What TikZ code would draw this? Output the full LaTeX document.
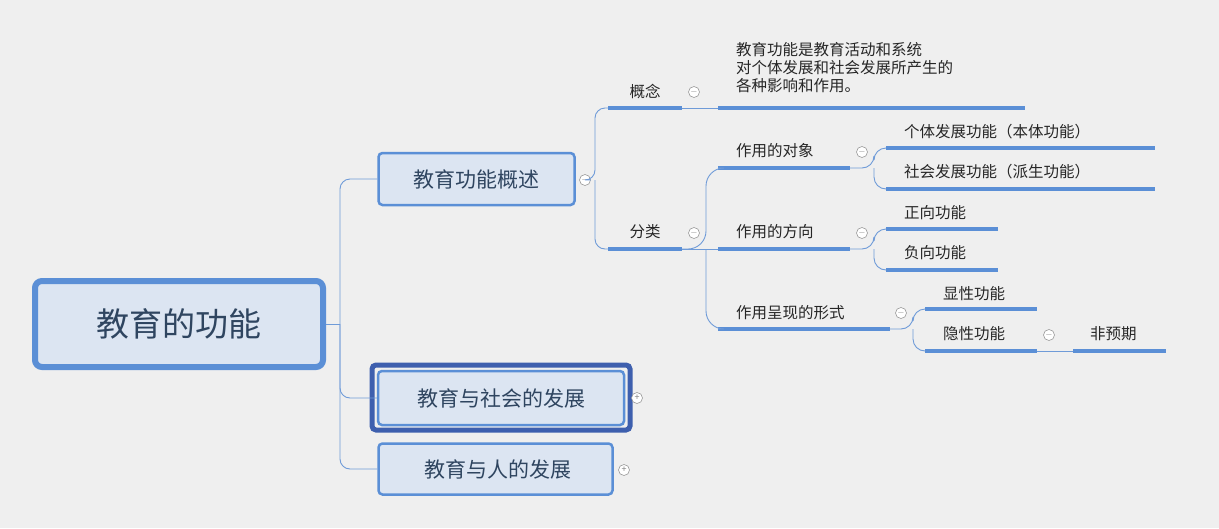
\documentclass[tikz,border=0pt]{standalone}
\usepackage{fontspec}
\setmainfont{Noto Sans CJK SC}
\begin{document}
\begin{tikzpicture}[x=1pt,y=-1pt,
  line/.style={draw=lb,line width=0.9pt,rounded corners=10pt},
  ul/.style={draw=ub,line width=3.5pt},
  lbl/.style={font=\fontsize{15.5}{18}\selectfont,text=black!85,inner sep=0pt},
  box/.style={draw=ub,line width=2.5pt,fill=bf,rounded corners=4pt,font=\fontsize{21}{24}\selectfont,text=tx},
  colbtn/.style={circle,draw=gray!80,fill=white,line width=0.6pt,minimum size=11pt,inner sep=0pt,font=\fontsize{9}{9}\selectfont,text=gray}]
\definecolor{bgc}{HTML}{EFEFEF}
\definecolor{ub}{HTML}{5B8FD6}
\definecolor{lb}{HTML}{6F9BD8}
\definecolor{bf}{HTML}{DCE5F2}
\definecolor{tx}{HTML}{2F4560}
\definecolor{sel}{HTML}{3E5FAE}
\fill[bgc] (0,0) rectangle (1219,528);
\useasboundingbox (0,0) rectangle (1219,528);
% root
\node[box,line width=6pt,rounded corners=7pt,minimum width=288pt,minimum height=86pt,font=\fontsize{33}{36}\selectfont] (root) at (179,324) {教育的功能};
\node[box,minimum width=196pt,minimum height=52pt] (c1) at (476.5,179) {教育功能概述};
\draw[sel,line width=5pt,rounded corners=4pt] (372,365) rectangle (630,430);
\node[box,minimum width=246pt,minimum height=54pt] (c2) at (501,398) {教育与社会的发展};
\node[box,minimum width=234pt,minimum height=51pt] (c3) at (495.5,469) {\ 教育与人的发展};
\coordinate (j0) at (340,324);
\draw[line] (root.east) -- (j0);
\draw[line] (c1.west) -- (340,179) -- (340,469) -- (c3.west);
\draw[line] (j0) |- (c2.west);
\node[colbtn] (m1) at (585,180) {$-$};
\node[colbtn] (m2) at (637,398) {+};
\node[colbtn] (m3) at (624,470) {+};
% level 2
\draw[ul] (608,108) coordinate (u1a) -- (682,108) coordinate (u1b);
\draw[ul] (608,249) coordinate (u2a) -- (682,249) coordinate (u2b);
\node[lbl] (gn) at (645,91) {概念};
\node[lbl] (fl) at (645,232) {分类};
\draw[line] (m1) -- (595,180) |- (u1a);
\draw[line] (595,180) |- (u2a);
\node[colbtn] (m4) at (694,92) {$-$};
\node[colbtn] (m5) at (694,233) {$-$};
\draw[line] (u1b) -- (718,108);
\draw[ul] (718,108) -- (1025,108);
\node[lbl,align=left,anchor=north west] (def) at (736,42) {教育功能是教育活动和系统\\对个体发展和社会发展所产生的\\各种影响和作用。};
% 分类 children
\draw[ul] (718,168) coordinate (a1) -- (850,168) coordinate (a1b);
\draw[ul] (718,249) coordinate (a2) -- (850,249) coordinate (a2b);
\draw[ul] (718,329) coordinate (a3) -- (890,329) coordinate (a3b);
\node[lbl,anchor=west] (t1) at (736,151) {作用的对象};
\node[lbl,anchor=west] (t2) at (736,232) {作用的方向};
\node[lbl,anchor=west] (t3) at (736,313) {作用呈现的形式};
\draw[line,rounded corners=18pt] (u2b) -- (706,249) |- (a1);
\draw[line] (u2b) -- (a2);
\draw[line,rounded corners=18pt] (706,249) |- (a3);
\node[colbtn] (m6) at (862,152) {$-$};
\node[colbtn] (m7) at (862,233) {$-$};
\node[colbtn] (m8) at (901,313) {$-$};
% level 4
\draw[ul] (886,148) coordinate (b1) -- (1155,148);
\draw[ul] (886,189) coordinate (b2) -- (1155,189);
\node[lbl,anchor=west] at (904,132) {个体发展功能（本体功能）};
\node[lbl,anchor=west] at (904,172) {社会发展功能（派生功能）};
\draw[line,rounded corners=12pt] (a1b) -- (874,168) |- (b1);
\draw[line,rounded corners=12pt] (874,168) |- (b2);
\draw[ul] (886,229) coordinate (b3) -- (998,229);
\draw[ul] (886,270) coordinate (b4) -- (998,270);
\node[lbl,anchor=west] at (904,213) {正向功能};
\node[lbl,anchor=west] at (904,253) {负向功能};
\draw[line,rounded corners=12pt] (a2b) -- (874,249) |- (b3);
\draw[line,rounded corners=12pt] (874,249) |- (b4);
\draw[ul] (925,309) coordinate (b5) -- (1037,309);
\draw[ul] (925,351) coordinate (b6) -- (1037,351) coordinate (b6b);
\node[lbl,anchor=west] at (943,294) {显性功能};
\node[lbl,anchor=west] at (943,334) {隐性功能};
\draw[line,rounded corners=12pt] (a3b) -- (913,329) |- (b5);
\draw[line,rounded corners=12pt] (913,329) |- (b6);
\node[colbtn] (m9) at (1049,335) {$-$};
\draw[ul] (1073,351) coordinate (b7) -- (1166,351);
\node[lbl,anchor=west] at (1090,334) {非预期};
\draw[line] (b6b) -- (b7);
\end{tikzpicture}
\end{document}
